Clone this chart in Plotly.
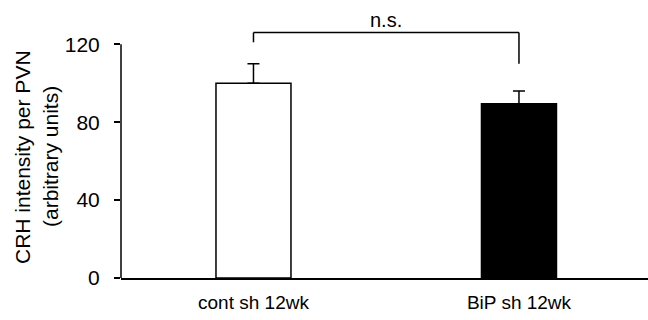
import plotly.graph_objects as go

categories = ["cont sh 12wk", "BiP sh 12wk"]
means = [100, 89.5]
errors = [10, 6.5]
bar_colors = ["white", "black"]
y_ticks = [0, 40, 80, 120]
sig_label = "n.s."
y_title_1 = "CRH intensity per PVN"
y_title_2 = "(arbitrary units)"

FONT = "Liberation Sans, Arial, sans-serif"

fig = go.Figure()
fig.add_trace(go.Bar(
    x=[0, 1], y=means,
    width=0.2825,
    marker=dict(color=bar_colors, line=dict(color="black", width=1.5)),
    error_y=dict(type="data", array=errors, symmetric=False, arrayminus=[0, 0],
                 color="black", thickness=1.5, width=6),
    showlegend=False,
))

# y axis line only up to 120
fig.add_shape(type="line", xref="paper", yref="y", x0=0, x1=0, y0=0, y1=120,
              line=dict(color="black", width=1.5))

# significance bracket
br_y = 126
fig.add_shape(type="line", xref="x", yref="y", x0=0, x1=0, y0=121, y1=br_y,
              line=dict(color="black", width=1.5))
fig.add_shape(type="line", xref="x", yref="y", x0=0, x1=1, y0=br_y, y1=br_y,
              line=dict(color="black", width=1.5))
fig.add_shape(type="line", xref="x", yref="y", x0=1, x1=1, y0=110, y1=br_y,
              line=dict(color="black", width=1.5))
fig.add_annotation(x=0.5, y=br_y, xref="x", yref="y", text=sig_label, showarrow=False,
                   yanchor="bottom", yshift=0, font=dict(size=20, color="black", family=FONT))

# y title (two lines)
plot_w = 527
fig.add_annotation(xref="paper", yref="paper", x=(22 - 121) / plot_w, y=0.46,
                   text=y_title_1, textangle=-90, showarrow=False,
                   xanchor="center", yanchor="middle",
                   font=dict(size=21, color="black", family=FONT))
fig.add_annotation(xref="paper", yref="paper", x=(50 - 121) / plot_w, y=0.46,
                   text=y_title_2, textangle=-90, showarrow=False,
                   xanchor="center", yanchor="middle",
                   font=dict(size=21, color="black", family=FONT))

fig.update_layout(
    width=648, height=320,
    margin=dict(l=121, r=0, t=14.75, b=42),
    plot_bgcolor="white", paper_bgcolor="white",
    font=dict(family=FONT, size=18, color="black"),
    xaxis=dict(range=[-0.499, 1.486], tickvals=[0, 1], ticktext=categories,
               showline=True, linecolor="black", linewidth=1.5, ticks="",
               showgrid=False, zeroline=False, tickfont=dict(size=19),
               ticklabelstandoff=6),
    yaxis=dict(range=[0, 135], tickvals=y_ticks, showline=False, ticks="outside",
               ticklen=6, tickwidth=1.5, tickcolor="black", showgrid=False,
               zeroline=False, tickfont=dict(size=21), ticklabelstandoff=10),
)

fig.write_html("out.html")
